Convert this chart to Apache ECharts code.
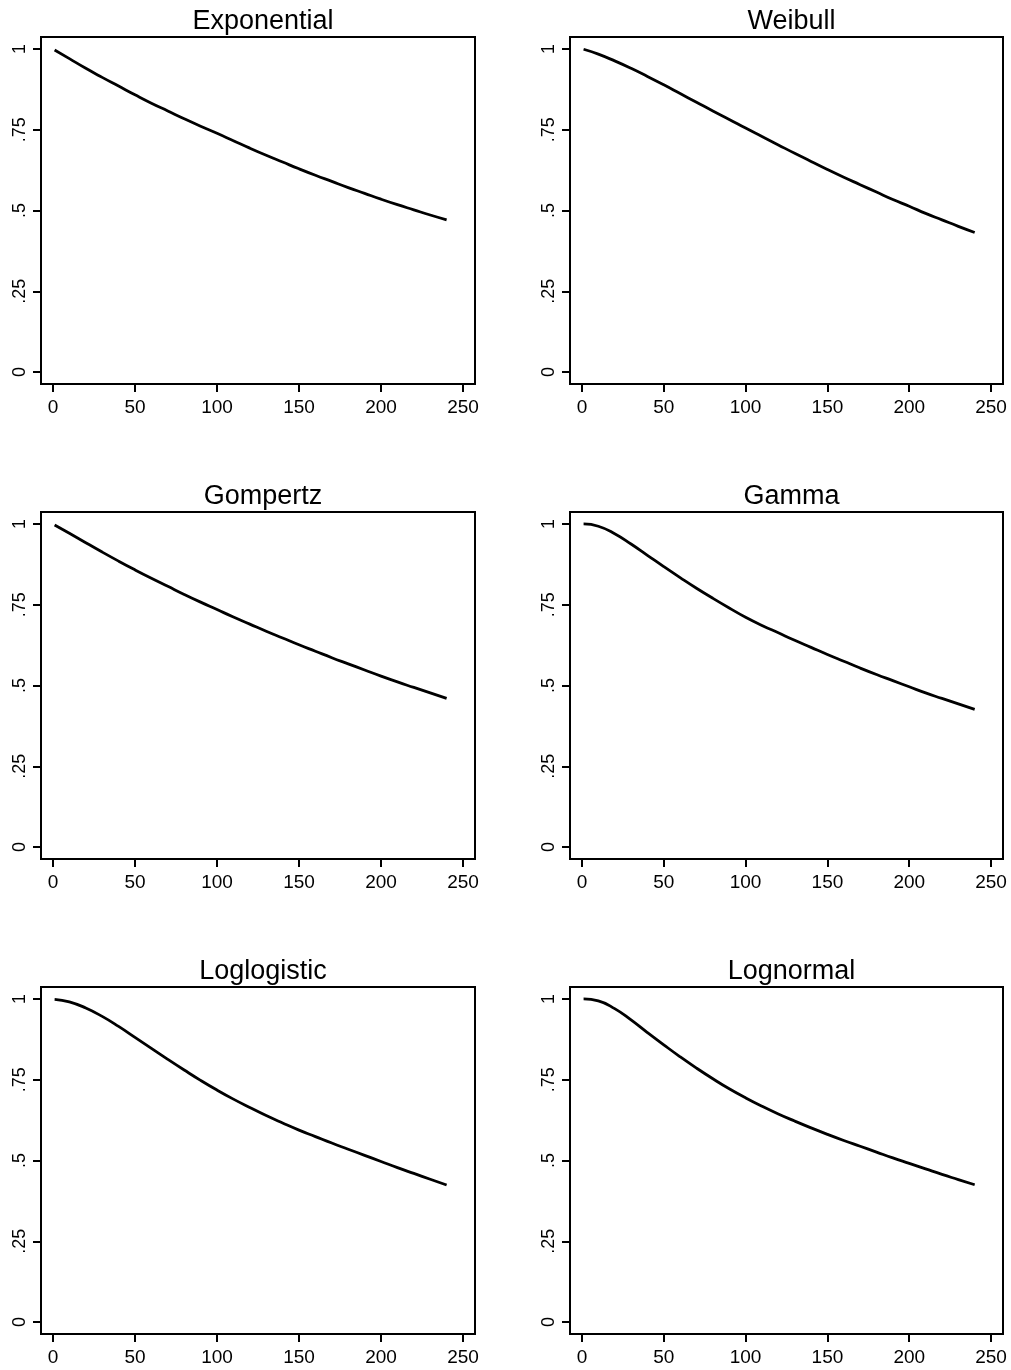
<!DOCTYPE html>
<html>
<head>
<meta charset="utf-8">
<script src="https://cdn.jsdelivr.net/npm/echarts@6/dist/echarts.min.js"></script>
<style>
html,body{margin:0;padding:0;background:#fff;}
#c{width:1011px;height:1370px;}
</style>
</head>
<body>
<div id="c"></div>
<script>
// Time points (analysis time)
var times = [1,10,20,30,40,50,60,70,80,90,100,110,120,130,140,150,160,170,180,190,200,210,220,230,240];

// Survival estimates
var exponential = [0.997,0.970,0.940,0.912,0.885,0.858,0.832,0.808,0.784,0.761,0.739,0.716,0.693,0.671,0.650,0.629,0.609,0.590,0.571,0.553,0.535,0.518,0.502,0.486,0.471];
var weibull     = [0.999,0.984,0.963,0.940,0.915,0.889,0.862,0.835,0.808,0.782,0.755,0.729,0.703,0.677,0.652,0.627,0.603,0.580,0.557,0.534,0.513,0.491,0.471,0.451,0.432];
var gompertz    = [0.997,0.971,0.942,0.913,0.885,0.858,0.832,0.807,0.782,0.758,0.735,0.712,0.690,0.668,0.647,0.626,0.606,0.586,0.567,0.548,0.529,0.511,0.494,0.477,0.460];
var gamma       = [1.000,0.993,0.970,0.938,0.903,0.868,0.834,0.801,0.770,0.740,0.711,0.686,0.663,0.640,0.618,0.596,0.575,0.554,0.534,0.515,0.496,0.477,0.460,0.443,0.426];
var loglogistic = [0.999,0.991,0.972,0.946,0.915,0.881,0.847,0.813,0.780,0.748,0.718,0.690,0.664,0.639,0.616,0.594,0.574,0.554,0.535,0.516,0.497,0.478,0.460,0.442,0.424];
var lognormal   = [1.000,0.994,0.970,0.935,0.896,0.858,0.821,0.786,0.753,0.722,0.694,0.668,0.644,0.622,0.601,0.581,0.562,0.544,0.526,0.508,0.491,0.474,0.457,0.441,0.425];

var titles = ["Exponential","Weibull","Gompertz","Gamma","Loglogistic","Lognormal"];
var seriesValues = [exponential, weibull, gompertz, gamma, loglogistic, lognormal];

var xTicks = [0,50,100,150,200,250];
var yTicks = [0,0.25,0.5,0.75,1];
var yTickLabels = ["0",".25",".5",".75","1"];

var chart = echarts.init(document.getElementById('c'), null, {renderer:'canvas'});

var colLeft = [41, 570];
var boxW = [434, 433];
var rowTop = [37, 512, 987];
var boxH = 347;
var FONT = 'Liberation Sans, Arial, Helvetica, sans-serif';

var grids = [], xAxes = [], yAxes = [], series = [], titleArr = [];
for (var i = 0; i < 6; i++) {
  var c = i % 2, r = Math.floor(i / 2);
  grids.push({
    left: colLeft[c], top: rowTop[r], width: boxW[c], height: boxH,
    show: true, borderColor: '#000', borderWidth: 2, backgroundColor: '#fff'
  });
  xAxes.push({
    type: 'value', gridIndex: i, min: -7.3, max: 257.3,
    axisLine: {show: true, onZero: false, lineStyle: {color: '#000', width: 2}},
    axisTick: {show: true, inside: false, length: 8, lineStyle: {color: '#000', width: 2}, customValues: xTicks},
    axisLabel: {show: true, margin: 14, color: '#000', fontSize: 19, fontFamily: FONT, customValues: xTicks},
    splitLine: {show: false}
  });
  yAxes.push({
    type: 'value', gridIndex: i, min: -0.037, max: 1.037,
    axisLine: {show: true, onZero: false, lineStyle: {color: '#000', width: 2}},
    axisTick: {show: true, inside: false, length: 8, lineStyle: {color: '#000', width: 2}, customValues: yTicks},
    axisLabel: {show: true, margin: 12, rotate: 90, color: '#000', fontSize: 18, fontFamily: FONT, customValues: yTicks,
      formatter: function (v) { var k = yTicks.indexOf(v); return k >= 0 ? yTickLabels[k] : ''; }},
    splitLine: {show: false}
  });
  var pts = [];
  for (var j = 0; j < times.length; j++) pts.push([times[j], seriesValues[i][j]]);
  series.push({
    type: 'line', xAxisIndex: i, yAxisIndex: i, data: pts, showSymbol: false, smooth: true,
    lineStyle: {color: '#000', width: 2.8}, animation: false
  });
  titleArr.push({
    text: titles[i], left: colLeft[c] + boxW[c] / 2, top: rowTop[r] - 34, textAlign: 'center',
    textStyle: {fontSize: 27, fontWeight: 'normal', color: '#000', fontFamily: FONT}
  });
}

chart.setOption({
  backgroundColor: '#fff',
  animation: false,
  title: titleArr,
  grid: grids,
  xAxis: xAxes,
  yAxis: yAxes,
  series: series
});
</script>
</body>
</html>
